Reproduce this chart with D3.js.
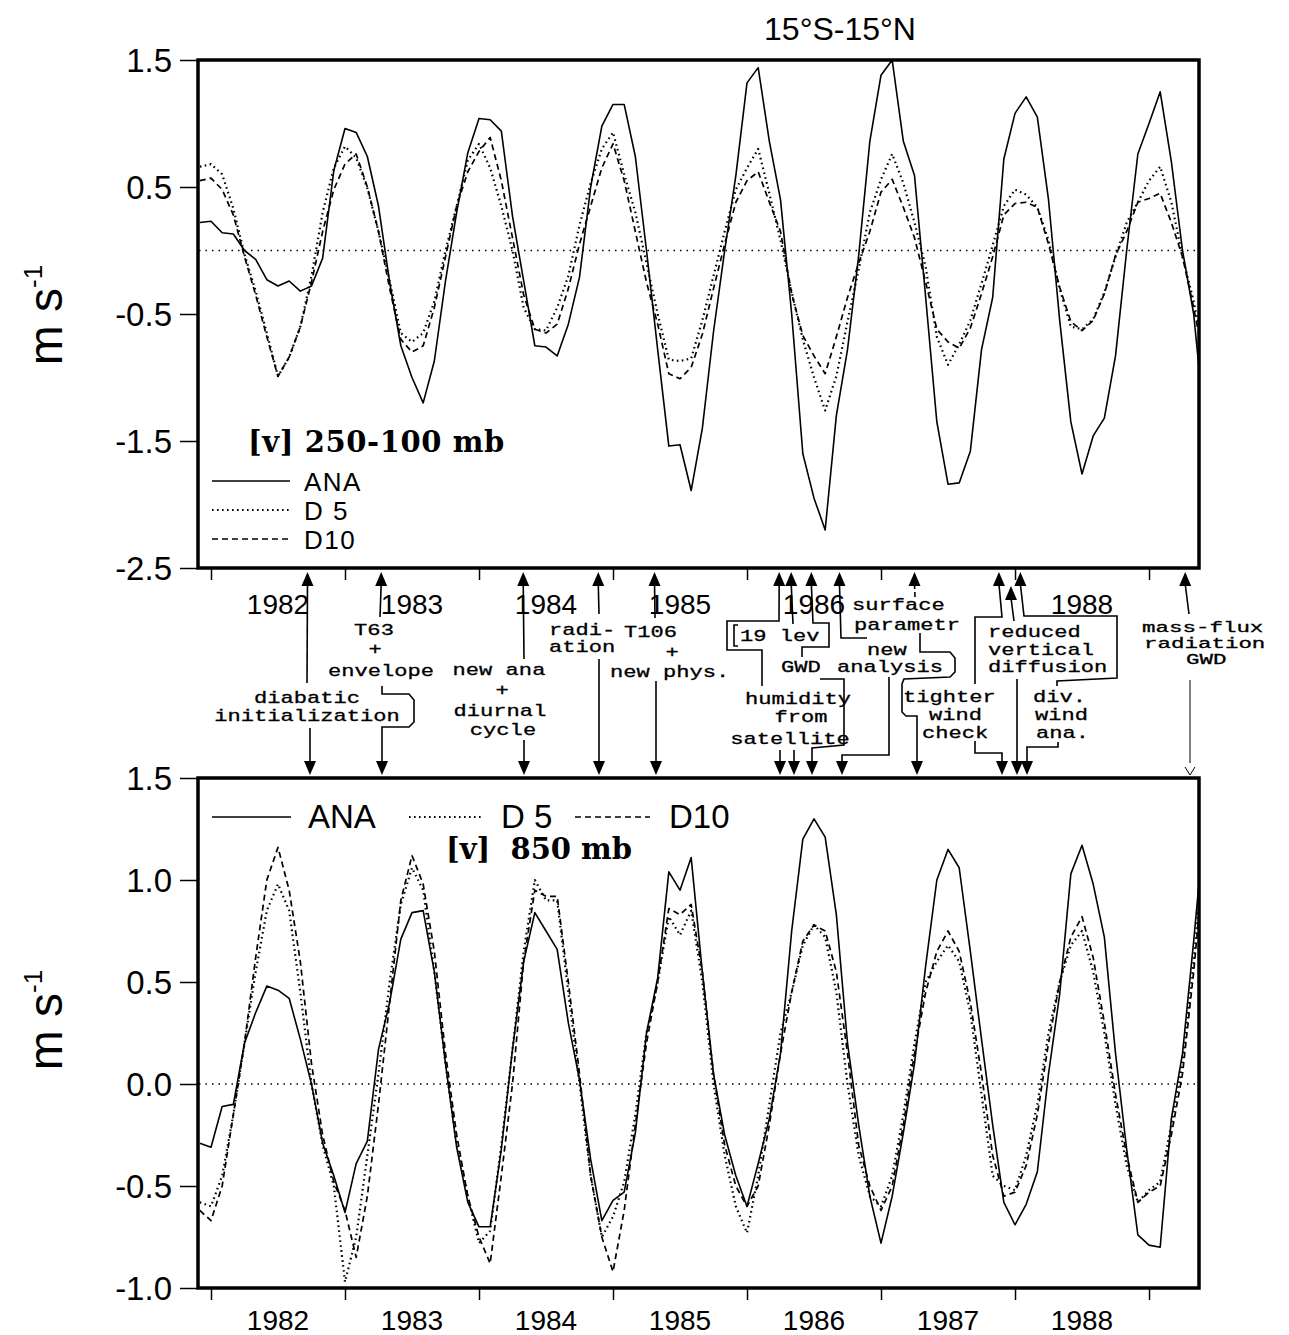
<!DOCTYPE html>
<html>
<head>
<meta charset="utf-8">
<script src="https://cdn.jsdelivr.net/npm/d3@7"></script>
<style>
body { margin: 0; background: #fff; }
text { fill: #000; }
</style>
</head>
<body>
<svg id="chart" width="1289" height="1335"></svg>
<script>
// monthly values, Dec 1981 .. Jun 1989
var months = d3.range(91).map(m => 1982 + (m - 1) / 12)

// [v] 250-100 mb
var anaUpper = [0.22, 0.23, 0.14, 0.13, 0.00, -0.07, -0.23, -0.28, -0.24, -0.32,
  -0.28, -0.06, 0.63, 0.96, 0.93, 0.74, 0.35, -0.25, -0.75, -1.00,
  -1.20, -0.87, -0.24, 0.30, 0.77, 1.04, 1.03, 0.94, 0.27, -0.24,
  -0.75, -0.76, -0.83, -0.58, -0.21, 0.50, 0.98, 1.15, 1.15, 0.74,
  0.00, -0.78, -1.54, -1.53, -1.89, -1.40, -0.64, 0.00, 0.59, 1.32,
  1.44, 0.86, 0.40, -0.50, -1.60, -1.95, -2.20, -1.30, -0.78, -0.04,
  0.86, 1.38, 1.50, 0.86, 0.59, -0.37, -1.35, -1.84, -1.83, -1.58,
  -0.78, -0.37, 0.72, 1.08, 1.21, 1.05, 0.40, -0.55, -1.35, -1.76,
  -1.46, -1.32, -0.83, 0.00, 0.76, 1.00, 1.25, 0.70, 0.00, -0.50,
  -1.40]
var d5Upper = [0.66, 0.68, 0.60, 0.33, -0.03, -0.32, -0.65, -0.99, -0.84, -0.60,
  -0.20, 0.30, 0.65, 0.82, 0.73, 0.49, 0.15, -0.24, -0.65, -0.72,
  -0.65, -0.40, 0.00, 0.35, 0.71, 0.84, 0.65, 0.35, 0.00, -0.45,
  -0.62, -0.63, -0.45, -0.20, 0.20, 0.53, 0.80, 0.93, 0.60, 0.30,
  -0.10, -0.50, -0.86, -0.87, -0.85, -0.55, -0.20, 0.15, 0.48, 0.65,
  0.80, 0.45, 0.08, -0.33, -0.70, -1.00, -1.26, -0.99, -0.56, -0.15,
  0.30, 0.56, 0.76, 0.53, 0.22, -0.13, -0.68, -0.90, -0.74, -0.55,
  -0.26, 0.04, 0.35, 0.48, 0.44, 0.34, 0.08, -0.30, -0.60, -0.62,
  -0.54, -0.33, -0.05, 0.22, 0.38, 0.55, 0.66, 0.38, -0.05, -0.40,
  -0.85]
var d10Upper = [0.55, 0.57, 0.48, 0.28, -0.05, -0.35, -0.68, -0.99, -0.84, -0.60,
  -0.25, 0.15, 0.48, 0.68, 0.76, 0.50, 0.15, -0.30, -0.70, -0.80,
  -0.75, -0.45, -0.05, 0.35, 0.62, 0.78, 0.89, 0.55, 0.10, -0.35,
  -0.62, -0.65, -0.58, -0.30, 0.05, 0.35, 0.65, 0.84, 0.55, 0.15,
  -0.25, -0.58, -0.97, -1.01, -0.92, -0.66, -0.30, 0.05, 0.38, 0.55,
  0.62, 0.38, 0.15, -0.34, -0.67, -0.83, -0.97, -0.68, -0.37, -0.10,
  0.15, 0.46, 0.56, 0.34, 0.10, -0.25, -0.62, -0.72, -0.77, -0.61,
  -0.34, -0.05, 0.28, 0.37, 0.38, 0.34, 0.05, -0.29, -0.56, -0.63,
  -0.55, -0.34, -0.04, 0.15, 0.38, 0.41, 0.45, 0.22, -0.05, -0.45,
  -0.90]

// [v] 850 mb
var anaLower = [-0.29, -0.31, -0.11, -0.10, 0.20, 0.35, 0.48, 0.46, 0.42, 0.22,
  0.00, -0.29, -0.45, -0.63, -0.39, -0.28, 0.17, 0.40, 0.71, 0.84,
  0.85, 0.55, 0.10, -0.31, -0.58, -0.70, -0.70, -0.32, 0.17, 0.60,
  0.84, 0.75, 0.66, 0.30, 0.02, -0.37, -0.67, -0.57, -0.53, -0.24,
  0.25, 0.52, 1.04, 0.95, 1.11, 0.55, 0.05, -0.25, -0.45, -0.60,
  -0.39, -0.17, 0.15, 0.75, 1.20, 1.30, 1.21, 0.83, 0.20, -0.20,
  -0.55, -0.78, -0.55, -0.24, 0.10, 0.58, 1.00, 1.15, 1.06, 0.65,
  0.22, -0.20, -0.58, -0.69, -0.59, -0.43, 0.05, 0.44, 1.03, 1.17,
  0.98, 0.72, 0.15, -0.32, -0.74, -0.79, -0.80, -0.17, 0.15, 0.70,
  1.30]
var d5Lower = [-0.58, -0.60, -0.45, -0.15, 0.20, 0.55, 0.85, 0.98, 0.85, 0.45,
  0.00, -0.30, -0.50, -0.97, -0.75, -0.35, 0.05, 0.50, 0.88, 1.06,
  0.95, 0.55, 0.10, -0.30, -0.55, -0.78, -0.72, -0.30, 0.17, 0.65,
  1.00, 0.90, 0.90, 0.45, 0.00, -0.45, -0.75, -0.65, -0.48, -0.15,
  0.25, 0.50, 0.82, 0.73, 0.85, 0.50, 0.00, -0.35, -0.60, -0.73,
  -0.45, -0.10, 0.25, 0.45, 0.68, 0.78, 0.72, 0.45, 0.00, -0.35,
  -0.55, -0.60, -0.45, -0.15, 0.20, 0.50, 0.60, 0.68, 0.60, 0.35,
  -0.05, -0.45, -0.50, -0.52, -0.35, -0.10, 0.25, 0.50, 0.68, 0.75,
  0.55, 0.25, -0.10, -0.40, -0.58, -0.52, -0.48, -0.20, 0.10, 0.60,
  1.20]
var d10Lower = [-0.62, -0.67, -0.50, -0.15, 0.20, 0.62, 1.00, 1.16, 0.95, 0.60,
  0.10, -0.25, -0.48, -0.62, -0.85, -0.55, -0.10, 0.40, 0.90, 1.12,
  0.98, 0.65, 0.15, -0.25, -0.55, -0.75, -0.88, -0.45, 0.00, 0.60,
  0.95, 0.92, 0.92, 0.50, 0.05, -0.45, -0.75, -0.92, -0.62, -0.20,
  0.20, 0.50, 0.86, 0.83, 0.88, 0.55, 0.05, -0.30, -0.50, -0.60,
  -0.50, -0.20, 0.15, 0.45, 0.70, 0.78, 0.75, 0.55, 0.15, -0.30,
  -0.50, -0.62, -0.50, -0.20, 0.15, 0.45, 0.65, 0.75, 0.65, 0.40,
  0.05, -0.35, -0.55, -0.53, -0.40, -0.15, 0.20, 0.50, 0.72, 0.82,
  0.62, 0.30, -0.05, -0.35, -0.58, -0.53, -0.50, -0.25, 0.05, 0.55,
  1.15]

var yearTicks = [1982, 1983, 1984, 1985, 1986, 1987, 1988, 1989]
var upperYearLabels = [1982, 1983, 1984, 1985, 1986, 1988]
var lowerYearLabels = [1982, 1983, 1984, 1985, 1986, 1987, 1988]
var upperTicks = [1.5, 0.5, -0.5, -1.5, -2.5]
var lowerTicks = [1.5, 1.0, 0.5, 0.0, -0.5, -1.0]

var seriesNames = ['ANA', 'D 5', 'D10']
var dashes = {'ANA': null, 'D 5': '1.6,3.4', 'D10': '6,4'}
var widths = {'ANA': 1.6, 'D 5': 2.2, 'D10': 1.7}

var svg = d3.select('#chart')
var x = d3.scaleLinear().domain([1981.903, 1989.373]).range([198, 1199])
var yTop = d3.scaleLinear().domain([-2.5, 1.5]).range([568, 60])
var yBot = d3.scaleLinear().domain([-1, 1.5]).range([1288, 778])

var sans = 'Liberation Sans, Arial, sans-serif'
var serifBold = 'DejaVu Serif, serif'
var mono = 'Liberation Mono, Courier New, monospace'

function drawPanel(id, y, ticks, series) {
  var g = svg.append('g')
  var y0 = y.range()[1], y1 = y.range()[0]
  g.append('clipPath').attr('id', id)
    .append('rect').attr('x', 198).attr('y', y0).attr('width', 1001).attr('height', y1 - y0)

  // dotted zero line
  g.append('line')
    .attr('x1', 199).attr('x2', 1198)
    .attr('y1', y(0)).attr('y2', y(0))
    .attr('stroke', '#000').attr('stroke-width', 1.3)
    .attr('stroke-dasharray', '1.5,5')

  var line = d3.line().x((d, i) => x(months[i])).y(d => y(d))
  var lg = g.append('g').attr('clip-path', 'url(#' + id + ')')
  series.forEach(function(s, k) {
    var name = seriesNames[k]
    lg.append('path')
      .datum(s)
      .attr('d', line)
      .attr('fill', 'none')
      .attr('stroke', '#000')
      .attr('stroke-width', widths[name])
      .attr('stroke-dasharray', dashes[name])
      .attr('stroke-linejoin', 'round')
  })

  // frame
  g.append('rect')
    .attr('x', 198).attr('y', y0).attr('width', 1001).attr('height', y1 - y0)
    .attr('fill', 'none').attr('stroke', '#000').attr('stroke-width', 3.5)

  // y axis
  var ya = g.append('g').attr('transform', 'translate(198,0)')
    .call(d3.axisLeft(y).tickValues(ticks).tickSize(18).tickPadding(8)
      .tickFormat(d => d.toFixed(1)))
  ya.select('.domain').remove()
  ya.selectAll('line').attr('stroke-width', 1.5)
  ya.selectAll('text').attr('font-family', sans)
    .attr('font-size', 33).attr('dy', '0.36em')

  // x ticks below the frame
  var xa = g.append('g').attr('transform', 'translate(0,' + y1 + ')')
    .call(d3.axisBottom(x).tickValues(yearTicks).tickSize(12).tickFormat(''))
  xa.select('.domain').remove()
  xa.selectAll('line').attr('stroke-width', 1.5)
  return g
}

drawPanel('clipTop', yTop, upperTicks, [anaUpper, d5Upper, d10Upper])
drawPanel('clipBot', yBot, lowerTicks, [anaLower, d5Lower, d10Lower])

// year labels
svg.append('g').selectAll('text').data(upperYearLabels).join('text')
  .attr('x', d => x(d + 0.5)).attr('y', 614)
  .attr('text-anchor', 'middle').attr('font-family', sans).attr('font-size', 28)
  .text(d => d)
svg.append('g').selectAll('text').data(lowerYearLabels).join('text')
  .attr('x', d => x(d + 0.5)).attr('y', 1330)
  .attr('text-anchor', 'middle').attr('font-family', sans).attr('font-size', 28)
  .text(d => d)

// title
svg.append('text').attr('x', 840).attr('y', 40).attr('text-anchor', 'middle')
  .attr('font-family', sans).attr('font-size', 32).text('15°S-15°N')

// y labels
;[[yTop, 315], [yBot, 1020]].forEach(function(p) {
  var t = svg.append('text')
    .attr('transform', 'translate(62,' + p[1] + ') rotate(-90)')
    .attr('text-anchor', 'middle').attr('font-family', sans).attr('font-size', 48)
  t.append('tspan').text('m s')
  t.append('tspan').attr('font-size', 26).attr('dy', -20).text('-1')
})

// legends
function legendSample(x1, x2, yy, name) {
  svg.append('line').attr('x1', x1).attr('x2', x2).attr('y1', yy).attr('y2', yy)
    .attr('stroke', '#000').attr('stroke-width', widths[name])
    .attr('stroke-dasharray', dashes[name])
}
svg.append('text').attr('x', 248).attr('y', 452).attr('font-family', serifBold)
  .attr('font-weight', 'bold').attr('font-size', 29).attr('letter-spacing', 0.6)
  .text('[v] 250-100 mb')
seriesNames.forEach(function(name, k) {
  var yy = 481 + k * 29
  legendSample(212, 290, yy, name)
  svg.append('text').attr('x', 304).attr('y', yy + 10).attr('font-family', sans)
    .attr('font-size', 26).attr('letter-spacing', 1.5).text(name)
})
var lowLegendX = [[212, 291, 308], [409, 482, 501], [575, 650, 669]]
seriesNames.forEach(function(name, k) {
  var p = lowLegendX[k]
  legendSample(p[0], p[1], 817, name)
  svg.append('text').attr('x', p[2]).attr('y', 828).attr('font-family', sans)
    .attr('font-size', 33).text(name)
})
svg.append('text').attr('x', 446).attr('y', 859).attr('font-family', serifBold)
  .attr('font-weight', 'bold').attr('font-size', 29).attr('xml:space', 'preserve')
  .text('[v]  850 mb')

// model change annotations between the panels
var events = [
  {date: 1982.72, texts: [['diabatic', 307, 703, 'middle'], ['initialization', 307, 721, 'middle']],
   up: [[307, 683]], down: [[310, 728]]},
  {date: 1983.27, texts: [['T63', 374, 635, 'middle'], ['+', 375, 654, 'middle'], ['envelope', 381, 676, 'middle']],
   up: [[380, 617]], down: [[382, 686], [382, 694], [409, 694], [414, 700], [414, 722], [409, 727], [382, 727]]},
  {date: 1984.33, texts: [['new ana', 499, 675, 'middle'], ['+', 502, 695, 'middle'], ['diurnal', 500, 716, 'middle'], ['cycle', 503, 735, 'middle']],
   up: [[524, 659]], down: [[524, 740]]},
  {date: 1984.89, texts: [['radi-', 549, 635, 'start'], ['ation', 549, 652, 'start']],
   up: [[599, 614]], down: [[599, 659]]},
  {date: 1985.31, texts: [['T106', 624, 637, 'start'], ['+', 672, 657, 'middle'], ['new phys.', 610, 677, 'start']],
   up: [[655, 618]], down: [[656, 681]]},
  {date: 1986.24, texts: [['humidity', 798, 704, 'middle'], ['from', 801, 722, 'middle'], ['satellite', 790, 744, 'middle']],
   up: [[762, 686], [762, 650], [727, 650], [727, 621], [779, 621]], down: [[780, 750]]},
  {date: 1986.33, texts: [['19 lev', 740, 641, 'start']],
   up: [[793, 624]], down: [[794, 750]]},
  {date: 1986.48, texts: [['GWD', 781, 672, 'start']],
   up: [[802, 657], [802, 647], [829, 647], [829, 623], [813, 623]], down: [[820, 679], [844, 679], [844, 745], [812, 748]]},
  {date: 1986.69, texts: [['new', 867, 655, 'start'], ['analysis', 837, 672, 'start']],
   up: [[867, 638], [841, 638]], down: [[889, 677], [889, 755], [842, 755]]},
  {date: 1987.25, texts: [['surface', 852, 610, 'start'], ['parametr', 854, 630, 'start']],
   up: [[915, 597]], dashedUp: true,
   down: [[920, 633], [920, 652], [950, 652], [955, 658], [955, 672], [950, 677], [904, 679], [902, 684], [902, 712], [906, 716], [917, 716]]},
  {date: 1987.88, texts: [['tighter', 903, 702, 'start'], ['wind', 929, 720, 'start'], ['check', 922, 738, 'start']],
   up: [[975, 684], [975, 617], [1002, 617]], down: [[975, 741], [975, 753], [1002, 753]]},
  {date: 1987.97, texts: [['reduced', 988, 637, 'start'], ['vertical', 988, 655, 'start'], ['diffusion', 988, 672, 'start']],
   up: [[1014, 621]], upTip: 586, down: [[1017, 679]]},
  {date: 1988.04, texts: [['div.', 1033, 702, 'start'], ['wind', 1035, 720, 'start'], ['ana.', 1036, 738, 'start']],
   up: [[1057, 686], [1057, 681], [1117, 678], [1117, 616], [1024, 616]], down: [[1058, 742], [1058, 747], [1027, 747]]},
  {date: 1989.27, texts: [['mass-flux', 1142, 632, 'start'], ['radiation', 1144, 648, 'start'], ['GWD', 1186, 664, 'start']],
   up: [[1189, 614]], down: [[1190, 680]], thin: true, small: true}
]

var ann = svg.append('g')
var pathLine = d3.line()
events.forEach(function(ev) {
  var upTip = ev.upTip || 572
  var downTip = 775
  var upPts = ev.up.concat([[x(ev.date), upTip + 12]])
  var downPts = ev.down.concat([[ev.down[ev.down.length - 1][0], downTip - 12]])
  ann.append('path').attr('d', pathLine(upPts)).attr('fill', 'none')
    .attr('stroke', '#000').attr('stroke-width', 1.6)
    .attr('stroke-dasharray', ev.dashedUp ? '5,3' : null)
  ann.append('path').attr('d', pathLine(downPts)).attr('fill', 'none')
    .attr('stroke', '#000').attr('stroke-width', ev.thin ? 1 : 1.6)
  var ux = upPts[upPts.length - 1][0]
  var dx = downPts[downPts.length - 1][0]
  ann.append('path')
    .attr('d', 'M' + ux + ',' + upTip + 'l-6,14h12z').attr('fill', '#000')
  if (ev.thin) {
    ann.append('path').attr('d', 'M' + (dx - 5) + ',' + (downTip - 8) + 'L' + dx + ',' + downTip + 'L' + (dx + 5) + ',' + (downTip - 8))
      .attr('fill', 'none').attr('stroke', '#000').attr('stroke-width', 1)
  } else {
    ann.append('path')
      .attr('d', 'M' + dx + ',' + downTip + 'l-6,-14h12z').attr('fill', '#000')
  }
  // wide typewriter lettering: stretch a monospace face horizontally
  var fs = ev.small ? 14.5 : 17
  var sx = ev.small ? 1.55 : 1.3
  ev.texts.forEach(function(t) {
    ann.append('text')
      .attr('transform', 'translate(' + t[1] + ',' + t[2] + ') scale(' + sx + ',1)')
      .attr('text-anchor', t[3])
      .attr('font-family', mono).attr('font-size', fs)
      .attr('stroke', '#000').attr('stroke-width', 0.3)
      .attr('xml:space', 'preserve')
      .text(t[0])
  })
})

// bracket drawn in front of "19 lev"
ann.append('path').attr('d', pathLine([[738, 625], [734, 625], [734, 646], [738, 646]]))
  .attr('fill', 'none').attr('stroke', '#000').attr('stroke-width', 1.6)
</script>
</body>
</html>
